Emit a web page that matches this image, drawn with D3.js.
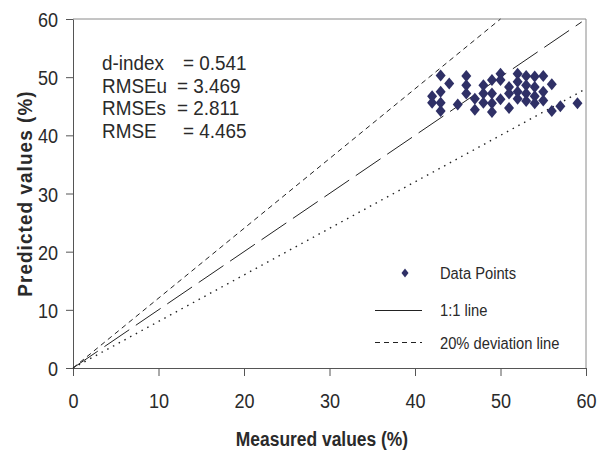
<!DOCTYPE html>
<html>
<head>
<meta charset="utf-8">
<script src="https://cdn.jsdelivr.net/npm/d3@7"></script>
<style>
  body { margin: 0; background: #fff; }
  svg text { font-family: "Liberation Sans", Arial, sans-serif; fill: #2a2a2a; }
</style>
</head>
<body>
<svg id="chart" width="599" height="459"></svg>
<script>
// measured (x) vs predicted (y)
var measured = [43, 44, 43, 42, 42, 43, 43, 45, 46, 46, 46, 47, 47, 48, 48, 48, 49, 49, 49, 49,
  50, 50, 50, 51, 51, 51, 52, 52, 52, 52, 53, 53, 53, 53, 54, 54, 54, 54, 55, 55, 55, 56, 56, 57, 59];
var predicted = [50.3, 48.9, 47.5, 46.7, 45.6, 45.6, 44.2, 45.3, 50.2, 48.6, 47.2, 46.3, 44.4, 48.6, 47.2, 45.6, 49.5, 47.2, 45.5, 44.0,
  50.6, 49.5, 46.2, 48.3, 47.2, 44.7, 50.6, 49.2, 47.5, 46.3, 50.2, 48.6, 47.2, 45.9, 50.1, 48.3, 46.7, 45.5, 50.2, 47.5, 46.0, 48.8, 44.2, 45.0, 45.5];
var xTicks = [0, 10, 20, 30, 40, 50, 60];
var yTicks = [0, 10, 20, 30, 40, 50, 60];
var statNames = ["d-index", "RMSEu", "RMSEs", "RMSE"];
var statValues = ["0.541", "3.469", "2.811", "4.465"];
var legendLabels = ["Data Points", "1:1 line", "20% deviation line"];
var oneToOne = [[0, 0], [59.5, 59.5]];
var upperDev = [[0, 0], [50, 60]];
var lowerDev = [[0, 0], [60, 48]];

var svg = d3.select('#chart');
var margin = { top: 19, right: 13, bottom: 91, left: 73 };
var width = 599, height = 459;
var sx = 0.86; // horizontal squeeze of the text, the original font looks condensed

var x = d3.scaleLinear().domain([0, 60]).range([margin.left, width - margin.right]);
var y = d3.scaleLinear().domain([0, 60]).range([height - margin.bottom, margin.top]);

// frame (top + right)
svg.append('path')
  .attr('d', 'M' + x(0) + ',' + y(60) + 'H' + x(60) + 'V' + y(0))
  .attr('fill', 'none').attr('stroke', '#8a8a8a').attr('stroke-width', 1);

var xAxis = svg.append('g')
  .attr('transform', 'translate(0,' + y(0) + ')')
  .call(d3.axisBottom(x).tickValues(xTicks).tickSize(8).tickSizeOuter(0));
var yAxis = svg.append('g')
  .attr('transform', 'translate(' + x(0) + ',0)')
  .call(d3.axisLeft(y).tickValues(yTicks).tickSize(7).tickSizeOuter(0));

[xAxis, yAxis].forEach(function (g) {
  g.select('.domain').attr('stroke', '#555');
  g.selectAll('.tick line').attr('stroke', '#555');
  g.selectAll('.tick text').attr('font-size', 21).attr('fill', '#2a2a2a')
    .style('font-family', '"Liberation Sans", Arial, sans-serif')
    .attr('transform', 'scale(' + sx + ',1)');
});
xAxis.selectAll('.tick text').attr('y', 40).attr('dy', 0);
yAxis.selectAll('.tick text').attr('x', -15 / sx).attr('dy', '0.36em');

var line = d3.line().x(function (d) { return x(d[0]); }).y(function (d) { return y(d[1]); });

svg.append('path').datum(oneToOne).attr('d', line)
  .attr('fill', 'none').attr('stroke', '#222').attr('stroke-width', 1).attr('stroke-dasharray', '30,8');
svg.append('path').datum(upperDev).attr('d', line)
  .attr('fill', 'none').attr('stroke', '#222').attr('stroke-width', 1).attr('stroke-dasharray', '5,4');
svg.append('path').datum(lowerDev).attr('d', line)
  .attr('fill', 'none').attr('stroke', '#222').attr('stroke-width', 1.4).attr('stroke-dasharray', '1.5,5');

// data points
var diamond = 'M0,-6L5,0L0,6L-5,0Z';
svg.append('g').selectAll('path')
  .data(measured)
  .join('path')
  .attr('d', diamond)
  .attr('transform', function (d, i) { return 'translate(' + x(d) + ',' + y(predicted[i]) + ')'; })
  .attr('fill', '#2f3066');

// stats text
var stats = svg.append('g');
var eqX = [183, 177, 177, 183];
statNames.forEach(function (n, i) {
  var ty = 70 + i * 22.5;
  stats.append('text').attr('transform', 'translate(102,' + ty + ') scale(0.9,1)')
    .attr('font-size', 21).text(n);
  stats.append('text').attr('transform', 'translate(' + eqX[i] + ',' + ty + ') scale(0.9,1)')
    .attr('font-size', 21).text('= ' + statValues[i]);
});

// legend
var leg = svg.append('g');
leg.append('path').attr('d', 'M0,-4.5L3.5,0L0,4.5L-3.5,0Z')
  .attr('transform', 'translate(405,273)').attr('fill', '#2f3066');
leg.append('line').attr('x1', 375).attr('x2', 422).attr('y1', 310.5).attr('y2', 310.5)
  .attr('stroke', '#222');
leg.append('line').attr('x1', 375).attr('x2', 422).attr('y1', 342.5).attr('y2', 342.5)
  .attr('stroke', '#222').attr('stroke-dasharray', '5,4');
var legY = [273, 310, 343];
legendLabels.forEach(function (d, i) {
  leg.append('text').attr('transform', 'translate(440,' + legY[i] + ') scale(0.92,1)')
    .attr('dy', '0.36em').attr('font-size', 16).text(d);
});

// axis titles
svg.append('text').attr('transform', 'translate(322,446) scale(0.83,1)')
  .attr('text-anchor', 'middle').attr('font-size', 21).attr('font-weight', 'bold')
  .text('Measured values (%)');
svg.append('text').attr('transform', 'translate(32,' + y(30) + ') rotate(-90) scale(0.9,1)')
  .attr('text-anchor', 'middle').attr('font-size', 21).attr('font-weight', 'bold')
  .attr('letter-spacing', 1.2).text('Predicted values (%)');
</script>
</body>
</html>
